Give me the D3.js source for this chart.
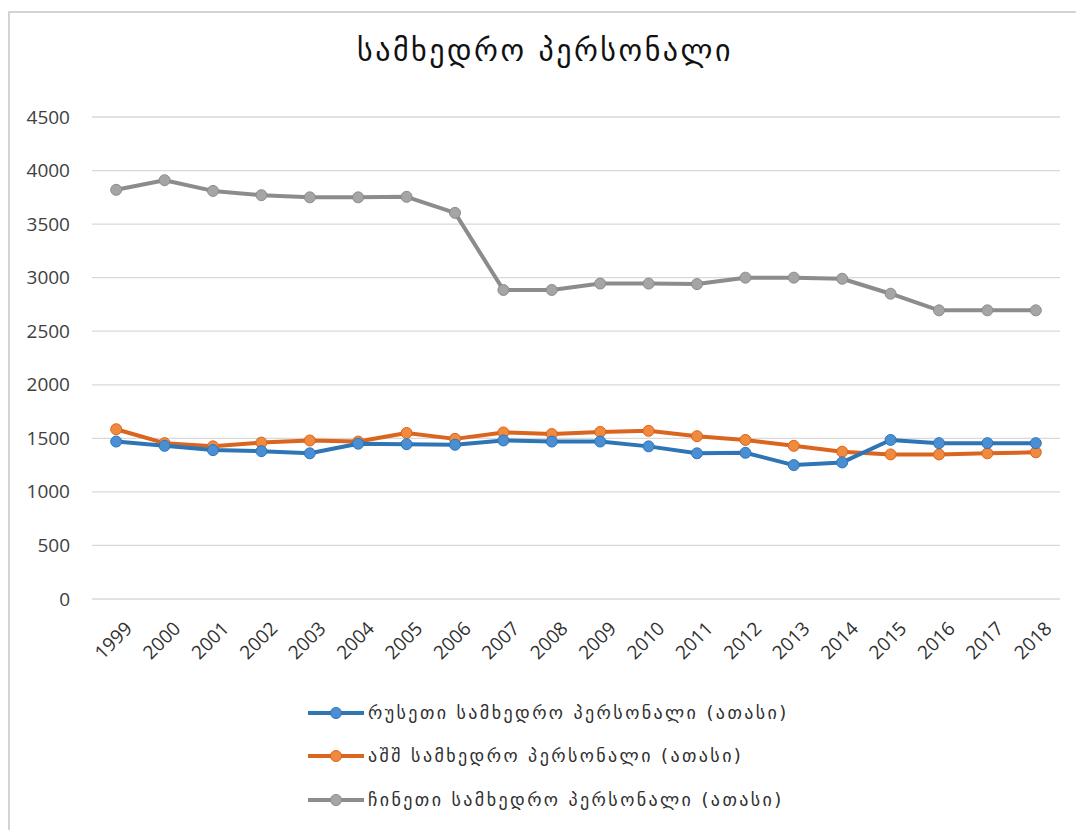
<!DOCTYPE html>
<html>
<head>
<meta charset="utf-8">
<script src="https://cdn.jsdelivr.net/npm/d3@7"></script>
<style>
  body { margin: 0; background: #fff; }
  svg { display: block; font-family: "DejaVu Sans", sans-serif; }
</style>
</head>
<body>
<div id="chart"></div>
<script>
// data
var years = ["1999","2000","2001","2002","2003","2004","2005","2006","2007","2008",
             "2009","2010","2011","2012","2013","2014","2015","2016","2017","2018"];
var russia = [1470,1430,1390,1380,1360,1450,1445,1440,1480,1470,
              1470,1425,1360,1365,1250,1275,1485,1455,1455,1455];
var usa = [1585,1455,1425,1460,1480,1470,1550,1495,1555,1540,
           1560,1570,1520,1485,1430,1375,1350,1350,1360,1370];
var china = [3820,3910,3810,3770,3750,3750,3755,3605,2885,2885,
             2945,2945,2940,3000,3000,2990,2850,2695,2695,2695];
var yTicks = [0,500,1000,1500,2000,2500,3000,3500,4000,4500];
var seriesNames = ["რუსეთი სამხედრო პერსონალი (ათასი)",
                   "აშშ სამხედრო პერსონალი (ათასი)",
                   "ჩინეთი სამხედრო პერსონალი (ათასი)"];
var colors = ["#2e75b6", "#d9651e", "#8c8c8c"];
var markerColors = ["#4a8fd4", "#f08a3c", "#a5a5a5"];

var W = 1076, H = 830;
var plot = {left: 92, right: 1060, top: 117, bottom: 599};

var svg = d3.select("#chart").append("svg")
  .attr("width", W).attr("height", H);

// chart border
svg.append("rect")
  .attr("x", 9).attr("y", 12)
  .attr("width", 1200).attr("height", 1000)
  .attr("fill", "none")
  .attr("stroke", "#d4d4d4")
  .attr("stroke-width", 2);

var x = d3.scalePoint().domain(years)
  .range([plot.left, plot.right]).padding(0.5);
var y = d3.scaleLinear().domain([0, 4500])
  .range([plot.bottom, plot.top]);

// gridlines
svg.append("g").selectAll("line")
  .data(yTicks).enter().append("line")
  .attr("x1", plot.left).attr("x2", plot.right)
  .attr("y1", function(d) { return y(d); })
  .attr("y2", function(d) { return y(d); })
  .attr("stroke", "#d9d9d9").attr("stroke-width", 1.3);

// y axis
var yAxis = svg.append("g")
  .attr("transform", "translate(70,0)")
  .call(d3.axisLeft(y).tickValues(yTicks).tickFormat(d3.format("d")).tickSize(0).tickPadding(0));
yAxis.select(".domain").remove();
yAxis.selectAll("text")
  .style("font-size", "19px")
  .style("font-family", "'Open Sans', sans-serif")
  .attr("fill", "#404040");

// x axis
var xAxis = svg.append("g")
  .attr("transform", "translate(0," + (plot.bottom + 10) + ")")
  .call(d3.axisBottom(x).tickSize(0).tickPadding(0));
xAxis.select(".domain").remove();
xAxis.selectAll("text")
  .style("font-size", "19px")
  .style("font-family", "'Open Sans', sans-serif")
  .attr("fill", "#303030")
  .attr("text-anchor", "end")
  .attr("y", 0)
  .attr("dy", "0.35em")
  .attr("transform", "translate(12,16) rotate(-45)");

// lines
var allSeries = [russia, usa, china];
var line = d3.line()
  .x(function(d, i) { return x(years[i]); })
  .y(function(d) { return y(d); });

[2, 1, 0].forEach(function(k) {
  var g = svg.append("g");
  g.append("path")
    .datum(allSeries[k])
    .attr("d", line)
    .attr("fill", "none")
    .attr("stroke", colors[k])
    .attr("stroke-width", 4)
    .attr("stroke-linejoin", "round");
  g.selectAll("circle")
    .data(allSeries[k]).enter().append("circle")
    .attr("cx", function(d, i) { return x(years[i]); })
    .attr("cy", function(d) { return y(d); })
    .attr("r", 5.5)
    .attr("fill", markerColors[k])
    .attr("stroke", colors[k])
    .attr("stroke-width", 1);
});

// title
svg.append("text")
  .attr("x", 545).attr("y", 61)
  .attr("text-anchor", "middle")
  .style("font-size", "30px")
  .style("letter-spacing", "2.5px")
  .attr("fill", "#111")
  .text("სამხედრო პერსონალი");

// legend
var legendY = [713, 756, 800];
var lg = svg.append("g");
seriesNames.forEach(function(name, k) {
  var row = lg.append("g").attr("transform", "translate(308," + legendY[k] + ")");
  row.append("line")
    .attr("x1", 0).attr("x2", 56)
    .attr("stroke", colors[k]).attr("stroke-width", 4);
  row.append("circle")
    .attr("cx", 28).attr("r", 5.5)
    .attr("fill", markerColors[k]).attr("stroke", colors[k]);
  row.append("text")
    .attr("x", 60).attr("dy", "0.35em")
    .style("font-size", "18px")
    .style("letter-spacing", "2.4px")
    .attr("fill", "#303030")
    .text(name);
});
</script>
</body>
</html>
